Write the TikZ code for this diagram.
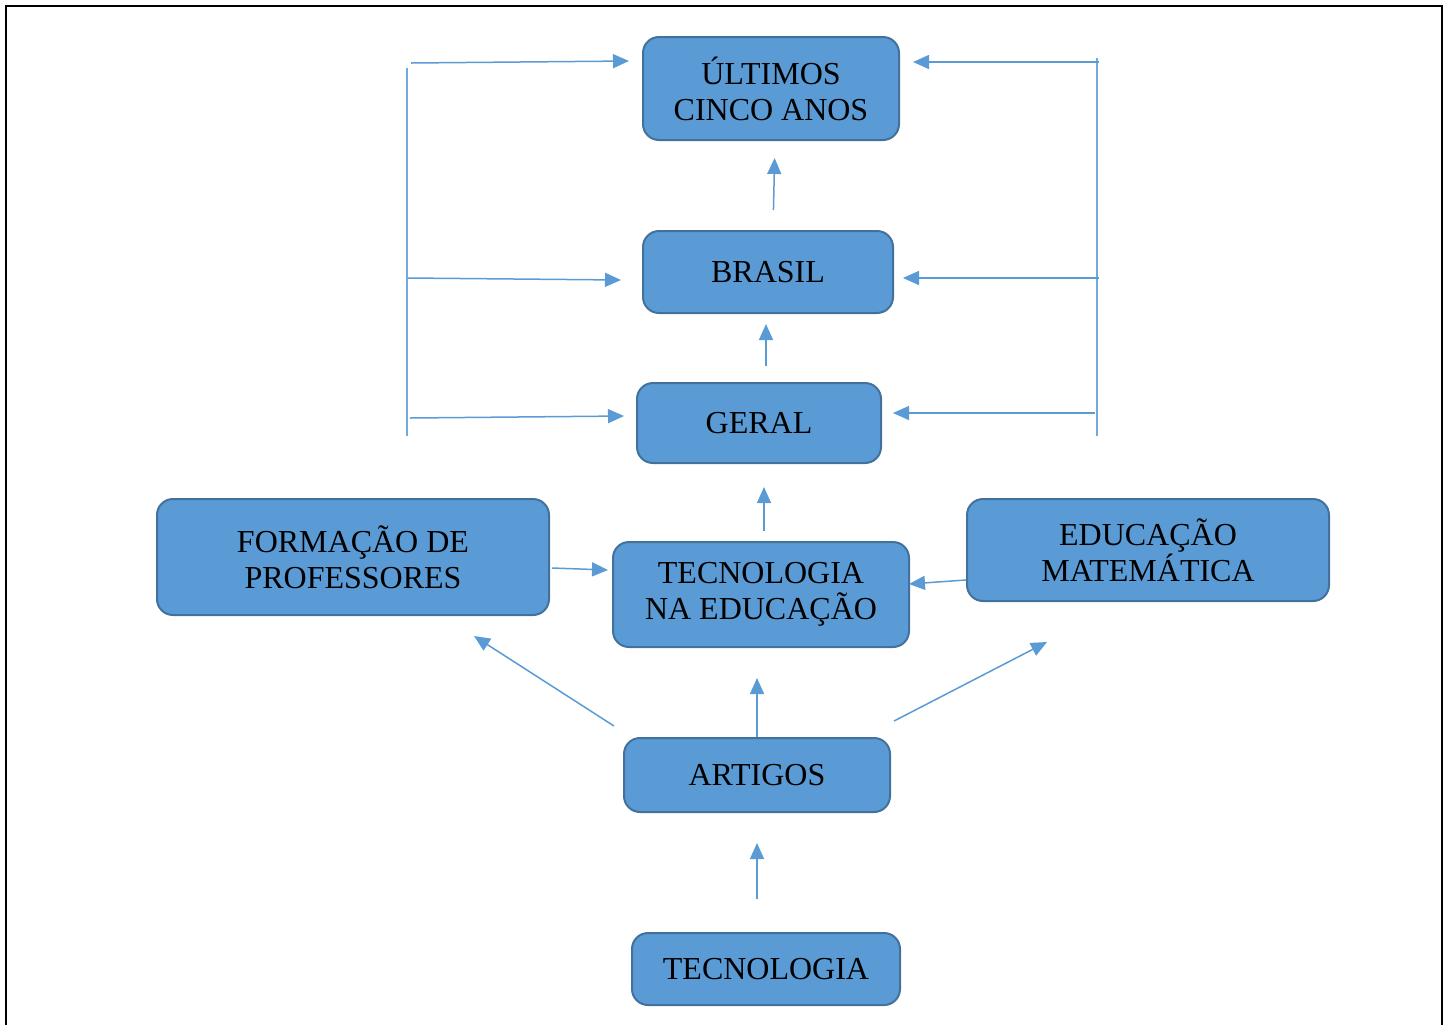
\documentclass[tikz,border=0pt]{standalone}
\usepackage{fontspec}
\setmainfont{Liberation Serif}
\usetikzlibrary{arrows.meta,calc}
\definecolor{boxfill}{HTML}{5B9BD5}
\definecolor{boxline}{HTML}{41719C}
\definecolor{arrcol}{HTML}{5B9BD5}
\begin{document}
\begin{tikzpicture}[x=0.5pt,y=-0.5pt,
  box/.style={draw=boxline, fill=boxfill, line width=1pt, rounded corners=8pt,
    inner sep=0pt, align=center, font=\fontsize{16}{18}\selectfont, text=black},
  arr/.style={draw=arrcol, line width=0.75pt, -{Triangle[length=8pt,width=7pt]}},
  brk/.style={draw=arrcol!85, line width=0.75pt}]
\useasboundingbox (0,0) rectangle (1451,1024);
% frame
\draw[line width=1.3pt, line cap=rect] (6,1030) -- (6,6) -- (1442,6) -- (1442,1030);
% boxes
\node[box, minimum width=128pt, minimum height=51.5pt] (ultimos) at (771,88.5) {ÚLTIMOS\\CINCO ANOS};
\node[box, minimum width=125pt, minimum height=41pt] (brasil) at (768,272) {BRASIL};
\node[box, minimum width=122pt, minimum height=40pt] (geral) at (759,423) {GERAL};
\node[box, minimum width=196pt, minimum height=58pt] (formacao) at (353,557) {FORMAÇÃO DE\\PROFESSORES};
\node[box, minimum width=148pt, minimum height=52.5pt] (tne) at (761,594.5) {TECNOLOGIA\\NA EDUCAÇÃO};
\node[box, minimum width=181pt, minimum height=51pt] (edumat) at (1148,550) {EDUCAÇÃO\\MATEMÁTICA};
\node[box, minimum width=133pt, minimum height=37pt] (artigos) at (757,775) {ARTIGOS};
\node[box, minimum width=134pt, minimum height=36pt] (tecno) at (766,969) {TECNOLOGIA};
% vertical arrows
\draw[arr, shorten <=16.5pt, shorten >=15pt] (artigos.south |- tecno.north) -- (artigos.south);
\draw[arr, shorten >=15pt] (artigos.north) -- (artigos.north |- tne.south);
\draw[arr, shorten <=5pt, shorten >=11.5pt] ($(tne.north)+(3,0)$) -- ($(tne.north |- geral.south)+(3,0)$);
\draw[arr, shorten <=8pt, shorten >=5pt] ($(brasil.south |- geral.north)+(-2,0)$) -- ($(brasil.south)+(-2,0)$);
\draw[arr, shorten <=10pt, shorten >=8.5pt] ($(ultimos.south |- brasil.north)+(2,0)$) -- ($(ultimos.south)+(4,0)$);
% side arrows into TECNOLOGIA NA EDUCACAO
\draw[arr] ($(formacao.east)+(2,11)$) -- ($(tne.west)+(-4,-24.5)$);
\draw[arr] ($(edumat.west)+(0,30)$) -- ($(tne.east)+(-1,-10.5)$);
% slanted arrows from ARTIGOS
\draw[arr] ($(artigos.north west)+(-9,-11)$) -- ($(formacao.south)+(121,20)$);
\draw[arr] ($(artigos.north east)+(3,-16)$) -- ($(edumat.south)+(-101,40)$);
% left bracket
\coordinate (ltop) at (407,68);
\coordinate (lbot) at (407,436);
\draw[brk] (ltop) -- (lbot);
\draw[arr] ($(ltop)+(4,-5)$) -- ($(ultimos.west)+(-13,-27.5)$);
\draw[arr] ($(ltop)+(1,210)$) -- ($(brasil.west)+(-21,8)$);
\draw[arr] ($(ltop)+(3,350)$) -- ($(geral.west)+(-12,-7)$);
% right bracket
\coordinate (rtop) at (1097,58);
\coordinate (rbot) at (1097,436);
\draw[brk] (rtop) -- (rbot);
\draw[arr] ($(rtop)+(2,4)$) -- ($(ultimos.east)+(13,-26.5)$);
\draw[arr] ($(rtop)+(2,220)$) -- ($(brasil.east)+(9,6)$);
\draw[arr] ($(rtop)+(-2,355)$) -- ($(geral.east)+(11,-10)$);
\end{tikzpicture}
\end{document}
